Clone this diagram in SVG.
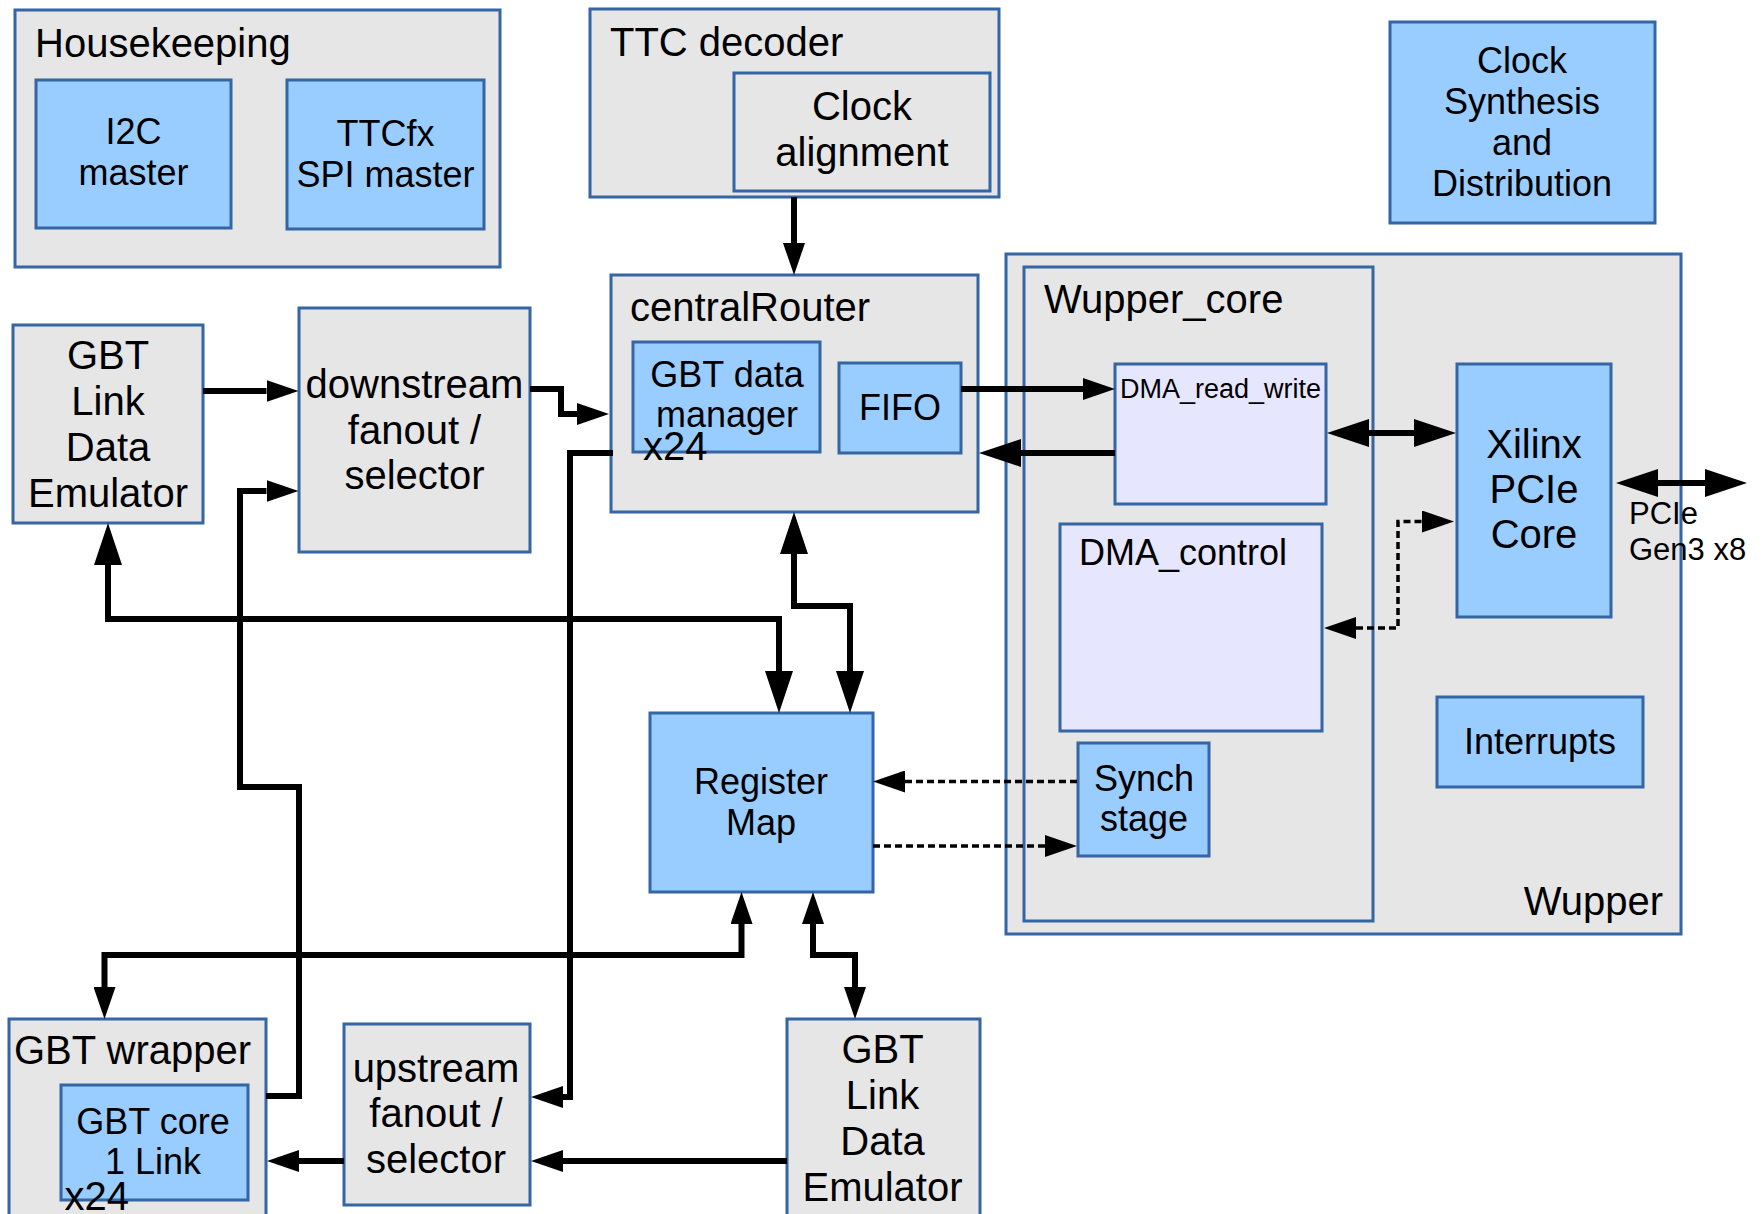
<svg xmlns="http://www.w3.org/2000/svg" width="1762" height="1214" viewBox="0 0 1762 1214">
<style>
  .gray { fill: #e6e6e6; stroke: #3465a4; stroke-width: 3; }
  .blue { fill: #99ccff; stroke: #3465a4; stroke-width: 3; }
  .lav { fill: #e6e6ff; stroke: #3465a4; stroke-width: 3; }
  text { font-family: "Liberation Sans", Arial, sans-serif; fill: #000; }
  .t40 { font-size: 40px; }
  .t36 { font-size: 36px; }
  .t31 { font-size: 31px; }
  .t27 { font-size: 27px; }
  .c { text-anchor: middle; }
  .e { text-anchor: end; }
  .wire { fill: none; stroke: #000; stroke-width: 6; }
  .dash { fill: none; stroke: #000; stroke-width: 3.5; stroke-dasharray: 7 4; }
</style>
<defs>
  <marker id="std" viewBox="0 0 32 22" refX="0" refY="11" markerWidth="32" markerHeight="22" markerUnits="userSpaceOnUse" orient="auto-start-reverse">
    <path d="M0,0 L32,11 L0,22 Z" fill="#000"/>
  </marker>
  <marker id="big" viewBox="0 0 42 28" refX="0" refY="14" markerWidth="42" markerHeight="28" markerUnits="userSpaceOnUse" orient="auto-start-reverse">
    <path d="M0,0 L42,14 L0,28 Z" fill="#000"/>
  </marker>
</defs>
<rect x="0" y="0" width="1762" height="1214" fill="#fff"/>

<g id="housekeeping">
  <rect class="gray" x="15" y="10" width="485" height="257"/>
  <text class="t40" x="35" y="57">Housekeeping</text>
</g>
<g id="i2c-master">
  <rect class="blue" x="36" y="80" width="195" height="148"/>
  <text class="t36 c" x="133.5" y="144">I2C</text>
  <text class="t36 c" x="133.5" y="185">master</text>
</g>
<g id="ttcfx-spi-master">
  <rect class="blue" x="287" y="80" width="197" height="149"/>
  <text class="t36 c" x="385.5" y="146">TTCfx</text>
  <text class="t36 c" x="385.5" y="187">SPI master</text>
</g>

<g id="ttc-decoder">
  <rect class="gray" x="590" y="9" width="409" height="188"/>
  <text class="t40" x="610" y="56">TTC decoder</text>
</g>
<g id="clock-alignment">
  <rect class="gray" x="734" y="73" width="256" height="118"/>
  <text class="t40 c" x="862" y="120">Clock</text>
  <text class="t40 c" x="862" y="166">alignment</text>
</g>

<g id="clock-synthesis">
  <rect class="blue" x="1390" y="22" width="265" height="201"/>
  <text class="t36 c" x="1522" y="73">Clock</text>
  <text class="t36 c" x="1522" y="114">Synthesis</text>
  <text class="t36 c" x="1522" y="155">and</text>
  <text class="t36 c" x="1522" y="195.5">Distribution</text>
</g>

<g id="gbt-emulator-top">
  <rect class="gray" x="13" y="325" width="190" height="198"/>
  <text class="t40 c" x="108" y="369">GBT</text>
  <text class="t40 c" x="108" y="415">Link</text>
  <text class="t40 c" x="108" y="461">Data</text>
  <text class="t40 c" x="108" y="507">Emulator</text>
</g>

<g id="downstream-fanout">
  <rect class="gray" x="299" y="308" width="231" height="244"/>
  <text class="t40 c" x="414.5" y="398">downstream</text>
  <text class="t40 c" x="414.5" y="444">fanout /</text>
  <text class="t40 c" x="414.5" y="489">selector</text>
</g>

<g id="central-router">
  <rect class="gray" x="611" y="275" width="367" height="237"/>
  <text class="t40" x="630" y="321">centralRouter</text>
</g>
<g id="gbt-data-manager">
  <rect class="blue" x="633" y="342" width="187" height="110"/>
  <text class="t36 c" x="727" y="387">GBT data</text>
  <text class="t36 c" x="727" y="427">manager</text>
  <text class="t40" x="643" y="460">x24</text>
</g>
<g id="fifo">
  <rect class="blue" x="839" y="363" width="122" height="90"/>
  <text class="t36 c" x="900" y="420">FIFO</text>
</g>

<g id="wupper">
  <rect class="gray" x="1006" y="254" width="675" height="680"/>
  <text class="t40 e" x="1663" y="915">Wupper</text>
</g>
<g id="wupper-core">
  <rect class="gray" x="1024" y="267" width="349" height="654"/>
  <text class="t40" x="1044" y="312.5">Wupper_core</text>
</g>
<g id="dma-read-write">
  <rect class="lav" x="1115" y="364" width="211" height="140"/>
  <text class="t27" x="1120" y="398">DMA_read_write</text>
</g>
<g id="dma-control">
  <rect class="lav" x="1060" y="524" width="262" height="207"/>
  <text class="t36" x="1079" y="565">DMA_control</text>
</g>
<g id="synch-stage">
  <rect class="blue" x="1078" y="743" width="131" height="113"/>
  <text class="t36 c" x="1144" y="791">Synch</text>
  <text class="t36 c" x="1144" y="831">stage</text>
</g>
<g id="xilinx-pcie-core">
  <rect class="blue" x="1457" y="364" width="154" height="253"/>
  <text class="t40 c" x="1534" y="458">Xilinx</text>
  <text class="t40 c" x="1534" y="503">PCIe</text>
  <text class="t40 c" x="1534" y="548">Core</text>
</g>
<g id="interrupts">
  <rect class="blue" x="1437" y="697" width="206" height="90"/>
  <text class="t36 c" x="1540" y="754">Interrupts</text>
</g>

<g id="register-map">
  <rect class="blue" x="650" y="713" width="223" height="179"/>
  <text class="t36 c" x="761" y="794">Register</text>
  <text class="t36 c" x="761" y="835">Map</text>
</g>

<g id="gbt-wrapper">
  <rect class="gray" x="9" y="1019" width="257" height="210"/>
  <text class="t40" x="14" y="1064">GBT wrapper</text>
</g>
<g id="gbt-core">
  <rect class="blue" x="61" y="1085" width="187" height="115"/>
  <text class="t36 c" x="153" y="1134">GBT core</text>
  <text class="t36 c" x="153" y="1174">1 Link</text>
  <text class="t40" x="64.5" y="1210">x24</text>
</g>
<g id="upstream-fanout">
  <rect class="gray" x="344" y="1024" width="186" height="181"/>
  <text class="t40 c" x="436" y="1082">upstream</text>
  <text class="t40 c" x="436" y="1127">fanout /</text>
  <text class="t40 c" x="436" y="1173">selector</text>
</g>
<g id="gbt-emulator-bottom">
  <rect class="gray" x="787" y="1019" width="193" height="210"/>
  <text class="t40 c" x="882.5" y="1063">GBT</text>
  <text class="t40 c" x="882.5" y="1109">Link</text>
  <text class="t40 c" x="882.5" y="1155">Data</text>
  <text class="t40 c" x="882.5" y="1201">Emulator</text>
</g>

<g id="connectors">
  <path class="wire" d="M794,197 V243" marker-end="url(#std)"/>
  <path class="wire" d="M203,391 H266.5" marker-end="url(#std)"/>
  <path class="wire" d="M530,389 H561 V414 H577" marker-end="url(#std)"/>
  <path class="wire" d="M266,1096 H299 V787 H240 V491 H266.5" marker-end="url(#std)"/>
  <path class="wire" d="M613,453 H570 V1097 H563" marker-end="url(#std)"/>
  <path class="wire" d="M108,565 V619 H779 V671" marker-start="url(#big)" marker-end="url(#big)"/>
  <path class="wire" d="M794,554 V606 H850 V671" marker-start="url(#big)" marker-end="url(#big)"/>
  <path class="wire" d="M741.5,924 V955 H104.5 V987" marker-start="url(#std)" marker-end="url(#std)"/>
  <path class="wire" d="M813,924 V955 H855 V987" marker-start="url(#std)" marker-end="url(#std)"/>
  <path class="wire" d="M344,1161 H299" marker-end="url(#std)"/>
  <path class="wire" d="M787,1161 H563" marker-end="url(#std)"/>
  <path class="wire" d="M961,389 H1083" marker-end="url(#std)"/>
  <path class="wire" d="M1115,453 H1021" marker-end="url(#big)"/>
  <path class="wire" d="M1369,433 H1414" marker-start="url(#big)" marker-end="url(#big)"/>
  <path class="wire" d="M1658,483 H1705" marker-start="url(#big)" marker-end="url(#big)"/>
  <path class="dash" d="M1356,628 H1398 V521.5 H1422" marker-start="url(#std)" marker-end="url(#std)"/>
  <path class="dash" d="M1077,781.5 H905" marker-end="url(#std)"/>
  <path class="dash" d="M873,846 H1045" marker-end="url(#std)"/>
</g>
<g id="pcie-label">
  <text class="t31" x="1629" y="524">PCIe</text>
  <text class="t31" x="1629" y="560">Gen3 x8</text>
</g>
</svg>
